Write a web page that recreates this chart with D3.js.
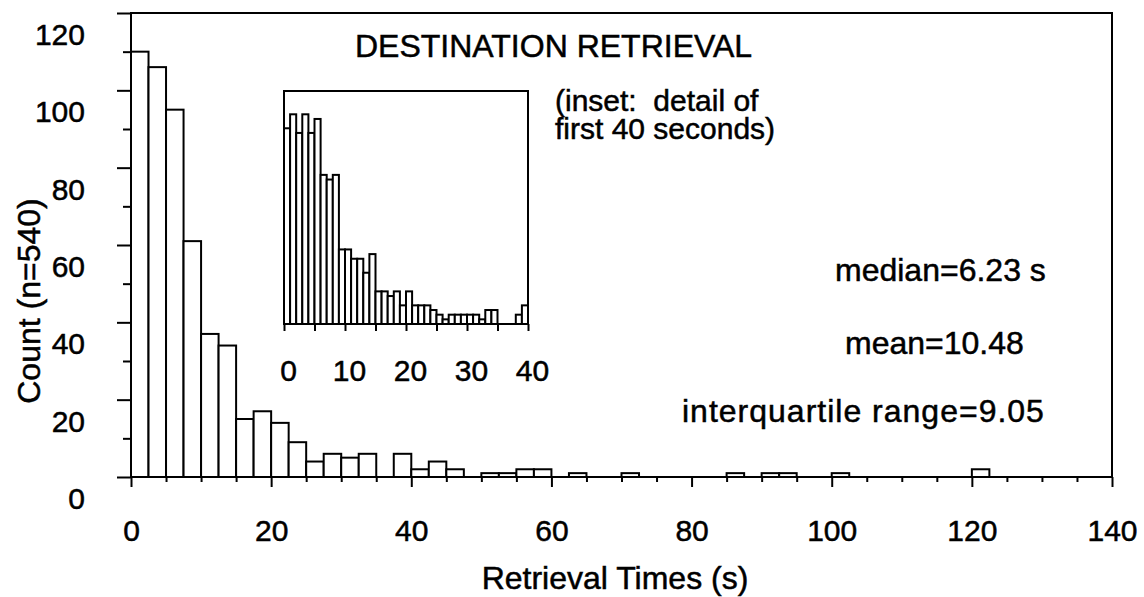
<html>

<head>
<style>
    body { margin: 0; background: #fff; }
    text { font-family: "Liberation Sans", Arial, sans-serif; fill: #000; stroke: #000; stroke-width: 0.5px; }
</style>
</head>
<body>
    <svg id="container" width="1144" height="597"></svg>
</body>
<script src="https://cdn.jsdelivr.net/npm/d3@7/dist/d3.min.js"></script>
<script>
    // main histogram: 2.5 s bins, 0 - 140 s
    let binWidth = 2.5
    let counts = [110, 106, 95, 61, 37, 34, 15, 17, 14, 9,
        4, 6, 5, 6, 0, 6, 2, 4, 2, 0,
        1, 1, 2, 2, 0, 1, 0, 0, 1, 0,
        0, 0, 0, 0, 1, 0, 1, 1, 0, 0,
        1, 0, 0, 0, 0, 0, 0, 0, 2, 0,
        0, 0, 0, 0, 0, 0]
    let xTickLabels = [0, 20, 40, 60, 80, 100, 120, 140]
    let yTickLabels = [0, 20, 40, 60, 80, 100, 120]

    // inset: 1 s bins, first 40 s
    let insetBinWidth = 1
    let insetCounts = [42, 45, 41, 45, 41, 44, 32, 31, 32, 16,
        16, 14, 14, 11, 15, 7, 7, 6, 7, 4,
        7, 4, 4, 4, 3, 2, 1, 2, 2, 2,
        2, 2, 1, 3, 3, 0, 0, 0, 2, 4]
    let insetTickLabels = [0, 10, 20, 30, 40]

    let title = "DESTINATION RETRIEVAL"
    let insetNote = ["(inset:  detail of", "first 40 seconds)"]
    let stats = ["median=6.23 s", "mean=10.48", "interquartile range=9.05"]

    let container = d3.select("#container")

    let x = d3.scaleLinear().domain([0, 140]).range([131, 1112])
    let y = d3.scaleLinear().domain([0, 120]).range([477, 13])

    // bars
    container.append("g")
        .selectAll("rect")
        .data(counts.map((c, i) => ({ start: i * binWidth, count: c })).filter(d => d.count > 0))
        .enter()
        .append("rect")
        .attr("x", d => x(d.start))
        .attr("width", d => x(d.start + binWidth) - x(d.start))
        .attr("y", d => y(d.count))
        .attr("height", d => y(0) - y(d.count))
        .attr("fill", "white")
        .attr("stroke", "black")
        .attr("stroke-width", 2)

    // frame
    container.append("rect")
        .attr("x", x(0)).attr("y", y(120))
        .attr("width", x(140) - x(0)).attr("height", y(0) - y(120))
        .attr("fill", "none").attr("stroke", "black").attr("stroke-width", 2)

    // x axis
    let xAxis = container.append("g")
        .attr("transform", `translate(0,${y(0)})`)
        .call(d3.axisBottom(x)
            .tickValues(d3.range(0, 141, 5))
            .tickSize(5)
            .tickFormat(d => xTickLabels.includes(d) ? d : ""))
    xAxis.select(".domain").remove()
    xAxis.selectAll(".tick line")
        .attr("stroke-width", 2)
        .attr("y2", d => d % 20 == 0 ? 10 : 5)
    xAxis.selectAll(".tick text")
        .attr("y", 64).attr("dy", 0)
        .style("font-size", "30px")

    // y axis
    let yAxis = container.append("g")
        .attr("transform", `translate(${x(0)},0)`)
        .call(d3.axisLeft(y)
            .tickValues(d3.range(0, 121, 10))
            .tickSize(8)
            .tickFormat(d => yTickLabels.includes(d) ? d : ""))
    yAxis.select(".domain").remove()
    yAxis.selectAll(".tick line")
        .attr("stroke-width", 2)
        .attr("x2", d => d % 20 == 0 ? -14 : -8)
    yAxis.selectAll(".tick text")
        .attr("x", -46)
        .attr("y", 21)
        .attr("dy", "0.35em")
        .style("font-size", "30px")

    // axis titles
    container.append("text")
        .attr("x", 615).attr("y", 589)
        .attr("text-anchor", "middle")
        .style("font-size", "32px")
        .text("Retrieval Times (s)")

    container.append("text")
        .attr("transform", "translate(40,301) rotate(-90)")
        .attr("text-anchor", "middle")
        .style("font-size", "32px")
        .text("Count (n=540)")

    // annotations
    container.append("text")
        .attr("x", 355).attr("y", 57)
        .style("font-size", "32px")
        .text(title)

    container.append("text")
        .attr("y", 111)
        .style("font-size", "30px")
        .style("white-space", "pre")
        .selectAll("tspan")
        .data(insetNote)
        .enter()
        .append("tspan")
        .attr("x", 555)
        .attr("dy", (d, i) => i == 0 ? 0 : 28)
        .text(d => d)

    let statPos = [[835, 281], [845, 354], [682, 422]]
    container.selectAll(".stat")
        .data(stats)
        .enter()
        .append("text")
        .attr("class", "stat")
        .attr("x", (d, i) => statPos[i][0])
        .attr("y", (d, i) => statPos[i][1])
        .style("font-size", "32px")
        .style("letter-spacing", (d, i) => i == 2 ? "1px" : "0px")
        .text(d => d)

    // inset
    let ix = d3.scaleLinear().domain([0, 40]).range([284, 528])
    let iy = d3.scaleLinear().domain([0, 50]).range([324, 91])

    let inset = container.append("g")

    inset.append("rect")
        .attr("x", ix(0)).attr("y", iy(50))
        .attr("width", ix(40) - ix(0)).attr("height", iy(0) - iy(50))
        .attr("fill", "white").attr("stroke", "black").attr("stroke-width", 2)

    inset.selectAll(".ibar")
        .data(insetCounts.map((c, i) => ({ start: i * insetBinWidth, count: c })).filter(d => d.count > 0))
        .enter()
        .append("rect")
        .attr("class", "ibar")
        .attr("x", d => ix(d.start))
        .attr("width", d => ix(d.start + insetBinWidth) - ix(d.start))
        .attr("y", d => iy(d.count))
        .attr("height", d => iy(0) - iy(d.count))
        .attr("fill", "white")
        .attr("stroke", "black")
        .attr("stroke-width", 2)

    let insetAxis = inset.append("g")
        .attr("transform", `translate(0,${iy(0)})`)
        .call(d3.axisBottom(ix)
            .tickValues(d3.range(0, 41, 5))
            .tickSize(7)
            .tickFormat(d => insetTickLabels.includes(d) ? d : ""))
    insetAxis.select(".domain").remove()
    insetAxis.selectAll(".tick line").attr("stroke-width", 2)
    insetAxis.selectAll(".tick text")
        .attr("y", 57).attr("dy", 0)
        .attr("dx", 4)
        .style("font-size", "30px")
</script>

</html>
